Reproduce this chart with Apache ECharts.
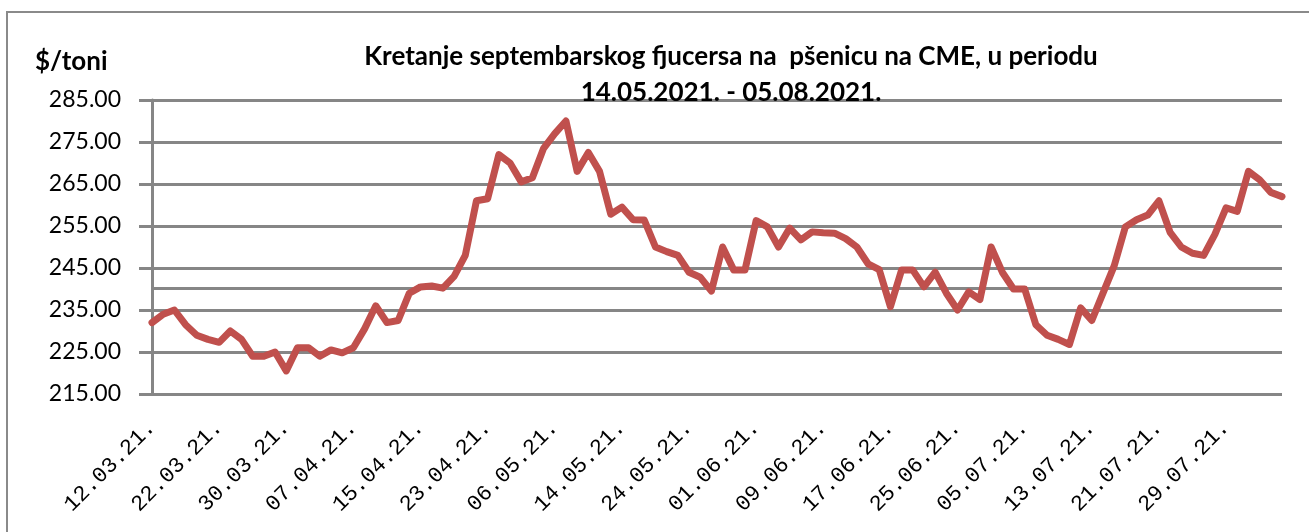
<!DOCTYPE html>
<html>
<head>
<meta charset="utf-8">
<script src="https://cdn.jsdelivr.net/npm/echarts@6/dist/echarts.min.js"></script>
<style>
html,body{margin:0;padding:0;background:#fff;}
#chart{width:1309px;height:532px;}
</style>
</head>
<body>
<div id="chart"></div>
<script>
const titleText = 'Kretanje septembarskog fjucersa na  pšenicu na CME, u periodu\n14.05.2021. - 05.08.2021.';
const unitLabel = '$/toni';
const dates = [
'12.03.21.','15.03.21.','16.03.21.','17.03.21.','18.03.21.','19.03.21.',
'22.03.21.','23.03.21.','24.03.21.','25.03.21.','26.03.21.','29.03.21.',
'30.03.21.','31.03.21.','01.04.21.','02.04.21.','05.04.21.','06.04.21.',
'07.04.21.','08.04.21.','09.04.21.','12.04.21.','13.04.21.','14.04.21.',
'15.04.21.','16.04.21.','19.04.21.','20.04.21.','21.04.21.','22.04.21.',
'23.04.21.','26.04.21.','27.04.21.','28.04.21.','29.04.21.','30.04.21.',
'06.05.21.','07.05.21.','10.05.21.','11.05.21.','12.05.21.','13.05.21.',
'14.05.21.','17.05.21.','18.05.21.','19.05.21.','20.05.21.','21.05.21.',
'24.05.21.','25.05.21.','26.05.21.','27.05.21.','28.05.21.','31.05.21.',
'01.06.21.','02.06.21.','03.06.21.','04.06.21.','07.06.21.','08.06.21.',
'09.06.21.','10.06.21.','11.06.21.','14.06.21.','15.06.21.','16.06.21.',
'17.06.21.','18.06.21.','21.06.21.','22.06.21.','23.06.21.','24.06.21.',
'25.06.21.','28.06.21.','29.06.21.','30.06.21.','01.07.21.','02.07.21.',
'05.07.21.','06.07.21.','07.07.21.','08.07.21.','09.07.21.','12.07.21.',
'13.07.21.','14.07.21.','15.07.21.','16.07.21.','19.07.21.','20.07.21.',
'21.07.21.','22.07.21.','23.07.21.','26.07.21.','27.07.21.','28.07.21.',
'29.07.21.','30.07.21.','02.08.21.','03.08.21.','04.08.21.','05.08.21.'
];
const prices = [
232,234,235,231.5,229,228,
227.3,230,228,224,224,225,
220.5,226,226,224,225.5,224.8,
226,230.5,236,232,232.5,239,
240.5,240.7,240.2,243,248,261,
261.5,272,270,265.5,266.5,273.5,
277,280,268,272.5,268,257.8,
259.5,256.5,256.4,250,248.9,248,
244,242.8,239.5,250,244.5,244.5,
256.3,254.8,250,254.5,251.7,253.6,
253.4,253.3,252,250,246,244.6,
235.8,244.5,244.5,240.5,244,239,
235,239.3,237.5,250,244,240,
240,231.5,229,228,226.8,235.5,
232.5,239,245.5,254.8,256.5,257.6,
261,253.5,250,248.5,248,253,
259.3,258.5,268,266,263,262
];
const yMin = 215, yMax = 285, yStep = 10;
const extraLine = 240.2;

const chart = echarts.init(document.getElementById('chart'));
chart.setOption({
  animation: false,
  backgroundColor: '#ffffff',
  grid: {left: 152, right: 27, top: 100, bottom: 138},
  graphic: [
    {type: 'rect', shape: {x: 7, y: 12, width: 1320, height: 540},
     style: {fill: 'none', stroke: '#8a8a8a', lineWidth: 2}, z: -10},
    {type: 'text', x: 731, y: 75, z: 100,
     style: {text: titleText, fill: '#000', font: 'bold 26px Lato, "Open Sans", sans-serif',
             textAlign: 'center', textVerticalAlign: 'middle', lineHeight: 36}},
    {type: 'text', x: 35, y: 62, z: 100,
     style: {text: unitLabel, fill: '#000', font: 'bold 26px Lato, "Open Sans", sans-serif',
             textAlign: 'left', textVerticalAlign: 'middle'}}
  ],
  xAxis: {
    type: 'category',
    data: dates,
    boundaryGap: false,
    axisLine: {show: false},
    axisTick: {show: false},
    splitLine: {show: false},
    axisLabel: {
      interval: 5, rotate: 45, margin: 30, color: '#000',
      fontFamily: '"Liberation Mono", monospace', fontSize: 22
    }
  },
  yAxis: {
    type: 'value', min: yMin, max: yMax, interval: yStep,
    axisLine: {show: true, onZero: false, lineStyle: {color: '#868686', width: 3}},
    axisTick: {show: true, length: 13, lineStyle: {color: '#868686', width: 3}},
    splitLine: {show: true, lineStyle: {color: '#868686', width: 3}},
    axisLabel: {
      margin: 31, color: '#000', fontFamily: 'Lato, "Open Sans", sans-serif', fontSize: 23,
      formatter: v => v.toFixed(2)
    }
  },
  series: [{
    type: 'line',
    data: prices,
    showSymbol: false,
    symbol: 'none',
    lineStyle: {color: '#c0504d', width: 7, join: 'round', cap: 'round'},
    z: 5,
    markLine: {
      silent: true, symbol: 'none', label: {show: false},
      lineStyle: {color: '#868686', width: 3, type: 'solid'},
      data: [{yAxis: extraLine}],
      z: 1
    }
  }]
});
</script>
</body>
</html>
